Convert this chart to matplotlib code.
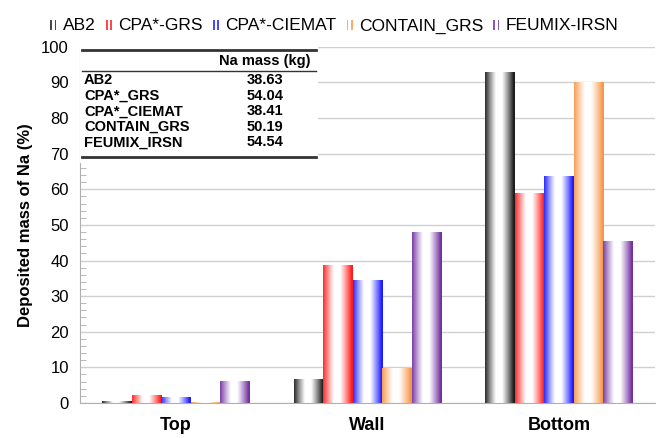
import numpy as np
import matplotlib.pyplot as plt
from matplotlib.colors import to_rgb
from matplotlib.legend_handler import HandlerBase
from matplotlib.patches import Rectangle

plt.rcParams['font.family'] = ['Liberation Sans', 'DejaVu Sans']

locations = ['Top', 'Wall', 'Bottom']
codes = ['AB2', 'CPA*-GRS', 'CPA*-CIEMAT', 'CONTAIN_GRS', 'FEUMIX-IRSN']
colors = ['#1a1a1a', '#ff1a1a', '#1a1aff', '#f79646', '#7030a0']
ab2 = [0.4, 6.5, 92.7]
cpa_grs = [2.2, 38.5, 58.7]
cpa_ciemat = [1.6, 34.4, 63.5]
contain_grs = [0.2, 9.8, 89.9]
feumix_irsn = [5.9, 48.0, 45.3]
series = [ab2, cpa_grs, cpa_ciemat, contain_grs, feumix_irsn]

table_codes = ['AB2', 'CPA*_GRS', 'CPA*_CIEMAT', 'CONTAIN_GRS', 'FEUMIX_IRSN']
na_mass = ['38.63', '54.04', '38.41', '50.19', '54.54']


def shade(color, n=64):
    # colour at both edges, white across the middle
    t = np.linspace(0, 1, n)
    w = np.clip((np.abs(t - 0.47) - 0.1) / 0.4, 0, 1) ** 1.1
    c = np.array(to_rgb(color))
    row = 1 - w[:, None] * (1 - c[None, :])
    return row[None, :, :]


class TwoLines(HandlerBase):
    def create_artists(self, legend, orig_handle, xdescent, ydescent,
                       width, height, fontsize, trans):
        col = orig_handle.get_facecolor()
        arts = []
        for dx in (0.15, 0.6):
            r = Rectangle((-xdescent + dx * width, -ydescent + 0.05 * height),
                          0.18 * width, 0.8 * height, facecolor=col,
                          edgecolor='none', alpha=0.8, transform=trans)
            arts.append(r)
        return arts


fig = plt.figure(figsize=(6.61, 4.38), dpi=100)
ax = fig.add_axes([0.121, 0.080, 0.870, 0.813])

x = np.arange(len(locations))
bw = 0.154
handles = []
for i, (vals, col) in enumerate(zip(series, colors)):
    pos = x + (i - 2) * bw
    bars = ax.bar(pos, vals, bw, color='none', edgecolor='none', zorder=2)
    img = shade(col)
    for b in bars:
        bx, by = b.get_x(), b.get_y()
        ax.imshow(img, extent=(bx, bx + b.get_width(), by, by + b.get_height()),
                  aspect='auto', zorder=2, interpolation='bilinear')
    handles.append(Rectangle((0, 0), 1, 1, facecolor=col))

ax.set_xlim(-0.5, 2.5)
ax.set_ylim(0, 100)
ax.set_xticks(x)
ax.set_xticklabels(locations, fontsize=13, fontweight='bold')
ax.set_yticks(np.arange(0, 101, 10))
ax.set_yticks(np.arange(0, 101, 2), minor=True)
ax.tick_params(axis='y', which='major', length=0, labelsize=12, pad=8)
ax.tick_params(axis='y', which='minor', direction='in', length=4, color='#b0b0b0')
ax.tick_params(axis='x', length=0, pad=10)
ax.yaxis.grid(True, color='#d0d0d0', lw=1)
ax.set_axisbelow(True)
for s in ('top', 'right'):
    ax.spines[s].set_visible(False)
for s in ('left', 'bottom'):
    ax.spines[s].set_color('#b0b0b0')
ax.set_ylabel('Deposited mass of Na (%)', fontsize=12, fontweight='bold', labelpad=6)

# inset table of sodium masses
tr = ax.transAxes
ax.add_patch(Rectangle((0.0, 0.674), 0.414, 0.326, transform=tr,
                       facecolor='white', edgecolor='none', zorder=3))
x0, x1 = 0.003, 0.41
ax.plot([x0, x1], [0.990, 0.990], color='#333333', lw=2, transform=tr, zorder=4)
ax.plot([x0, x1], [0.933, 0.933], color='#333333', lw=1, transform=tr, zorder=4)
ax.plot([x0, x1], [0.692, 0.692], color='#333333', lw=2, transform=tr, zorder=4)
ax.text(0.322, 0.961, 'Na mass (kg)', transform=tr, ha='center', va='center',
        fontsize=10.5, fontweight='bold', zorder=5)
for k, (name, val) in enumerate(zip(table_codes, na_mass)):
    yy = 0.906 - k * 0.0435
    ax.text(0.007, yy, name, transform=tr, ha='left', va='center',
            fontsize=10.5, fontweight='bold', zorder=5)
    ax.text(0.322, yy, val, transform=tr, ha='center', va='center',
            fontsize=10.5, fontweight='bold', zorder=5)

fig.legend(handles, codes, handler_map={Rectangle: TwoLines()},
           loc='upper center', bbox_to_anchor=(0.505, 0.995), ncol=5,
           frameon=False, fontsize=12.5, handlelength=0.55, handleheight=0.8,
           handletextpad=0.25, columnspacing=0.5)

fig.savefig('out.png', dpi=100)
